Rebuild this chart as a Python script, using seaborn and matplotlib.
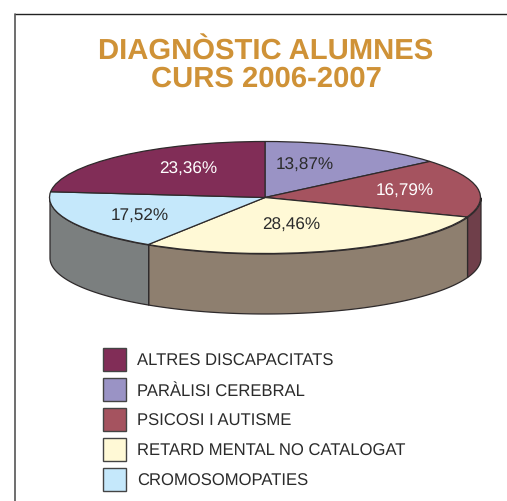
import numpy as np
import matplotlib
matplotlib.use('Agg')
import matplotlib.pyplot as plt
from matplotlib.patches import Patch
import seaborn as sns

titol = 'DIAGNÒSTIC ALUMNES\nCURS 2006-2007'
# ordre horari des de dalt, com al pastis original
categories = ['PARÀLISI CEREBRAL', 'PSICOSI I AUTISME', 'RETARD MENTAL NO CATALOGAT',
              'CROMOSOMOPATIES', 'ALTRES DISCAPACITATS']
valors = [13.87, 16.79, 28.46, 17.52, 23.36]
colors_cara = ['#9A93C5', '#A5535F', '#FFF9D6', '#C5E8FB', '#812D57']
colors_lateral = ['#6B6590', '#6F3F4A', '#8E7F6F', '#7B7F7F', '#5A2A44']
colors_text = ['#2B2B2B', '#FFFFFF', '#2B2B2B', '#2B2B2B', '#FFFFFF']
ordre_llegenda = [4, 0, 1, 2, 3]

sns.set_theme(style='white')
plt.rcParams['font.family'] = ['Liberation Sans', 'DejaVu Sans']
plt.rcParams['text.hinting'] = 'none'

W, H = 507, 502
cx, cy, rx, ry, gruix = 265, 198.5, 215.5, 56, 60
linia = '#2E2A2B'

fig = plt.figure(figsize=(W / 100, H / 100), dpi=100, facecolor='white')
ax = fig.add_axes([0, 0, 1, 1])


def px(x, y):
    # pixels de la imatge -> coordenades de l'el·lipse unitat
    return (x - cx) / rx, (cy - y) / ry


# cara superior
ax.pie(valors, colors=sns.color_palette(colors_cara), startangle=90, counterclock=False,
       radius=1, wedgeprops={'edgecolor': linia, 'linewidth': 0.9, 'zorder': 3})
ax.set_aspect('auto')
ax.set_xlim(px(0, 0)[0], px(W, 0)[0])
ax.set_ylim(px(0, H)[1], px(0, 0)[1])

# lateral: nomes la part frontal (de 90 a 270 graus en sentit horari)
fons = np.cumsum([0] + valors) * 3.6
for i in range(len(valors)):
    a0, a1 = max(fons[i], 90), min(fons[i + 1], 270)
    if a1 <= a0:
        continue
    t = np.radians(np.linspace(a0, a1, 120))
    xs, ys = np.sin(t), np.cos(t)
    ax.fill_between(xs, ys, ys - gruix / ry, color=colors_lateral[i], edgecolor=linia,
                    linewidth=0.9, zorder=2)

# percentatges
pos_text = [(305, 165), (405, 191), (291, 225), (140, 216), (188, 169)]
for v, (x, y), c in zip(valors, pos_text, colors_text):
    ax.text(*px(x, y), f'{v:.2f}%'.replace('.', ','), color=c, fontsize=12.3,
            ha='center', va='center', zorder=5)

# titol
ax.text(*px(266, 65), titol, color='#CF9237', fontsize=21.1, fontweight='bold',
        ha='center', va='center', linespacing=1.02)

# marc superior i esquerre
ax.plot(*zip(px(507, 14.5), px(15, 14.5)), color='#222222', lw=1.0, clip_on=False)
ax.plot(*zip(px(15, 14.5), px(15, 502)), color='#555555', lw=1.2, clip_on=False)

# llegenda
handles = [Patch(facecolor=colors_cara[i], edgecolor='#444444', linewidth=1.0) for i in ordre_llegenda]
labels = [categories[i] for i in ordre_llegenda]
fs = 12
fpx = fs / 0.72
ax.legend(handles, labels, loc='upper left', bbox_to_anchor=(103 / W, 1 - 349 / H),
          frameon=False, fontsize=fs, labelcolor='#2B2B2B', borderaxespad=0, borderpad=0,
          handlelength=23 / fpx, handleheight=(23 / fpx - 0.245) / 0.65, handletextpad=11 / fpx,
          labelspacing=7 / fpx)

fig.savefig('out.png', dpi=100)
